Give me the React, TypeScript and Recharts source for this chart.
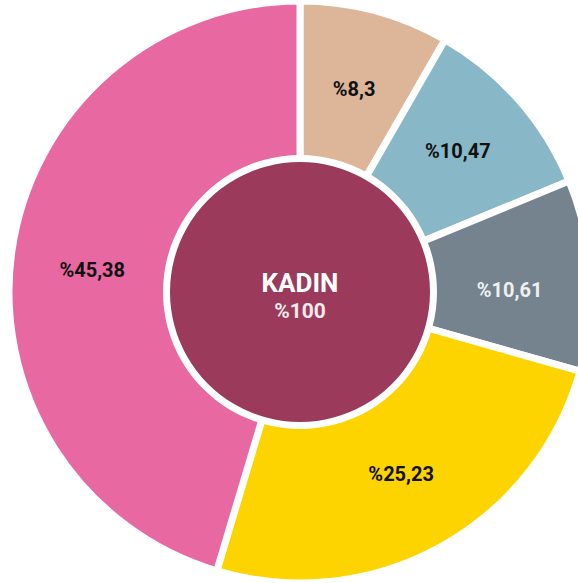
import { PieChart, Pie, Cell } from "recharts";

const categories = ["A", "B", "C", "D", "E"];
const values = [8.3, 10.47, 10.61, 25.23, 45.38];
const labels = ["%8,3", "%10,47", "%10,61", "%25,23", "%45,38"];
const colors = ["#DDB598", "#88B8C8", "#75838F", "#FDD300", "#E869A2"];
const textColors = ["#111", "#111", "#EEF0F2", "#111", "#111"];
const centerTitle = "KADIN";
const centerValue = "%100";

// small nudges so the labels sit where the original puts them
const labelShiftY = [0, -2, 10, -2, 8];

const RADIAN = Math.PI / 180;

export default function App() {
  const data = categories.map((name, i) => ({ name, value: values[i] }));
  const center = [{ name: centerTitle, value: 100 }];

  const renderLabel = (props: any) => {
    const { cx, cy, midAngle, index } = props;
    const r = 210;
    const x = cx + r * Math.cos(-midAngle * RADIAN);
    const y = cy + r * Math.sin(-midAngle * RADIAN) + labelShiftY[index];
    return (
      <text
        x={x}
        y={y}
        fill={textColors[index]}
        textAnchor="middle"
        dominantBaseline="central"
        fontFamily="Roboto"
        fontWeight={700}
        fontSize={20}
      >
        {labels[index]}
      </text>
    );
  };

  const renderCenter = (props: any) => {
    const { cx, cy } = props;
    return (
      <g fontFamily="Roboto" fontWeight={700} textAnchor="middle">
        <text x={cx} y={cy} fill="#FFFFFF" fontSize={26}>
          {centerTitle}
        </text>
        <text x={cx} y={cy + 26} fill="#F3E9EC" fontSize={21}>
          {centerValue}
        </text>
      </g>
    );
  };

  return (
    <div style={{ position: "absolute", left: 0, top: 0, width: 578, height: 583, overflow: "hidden" }}>
      <PieChart width={578} height={583} margin={{ top: 0, right: 0, bottom: 0, left: 0 }}>
        <Pie
          data={data}
          dataKey="value"
          cx={300}
          cy={292}
          innerRadius={0}
          outerRadius={291}
          startAngle={90}
          endAngle={-270}
          stroke="#FFFFFF"
          strokeWidth={7}
          label={renderLabel}
          labelLine={false}
          isAnimationActive={false}
        >
          {data.map((d, i) => (
            <Cell key={d.name} fill={colors[i]} />
          ))}
        </Pie>
        <Pie
          data={center}
          dataKey="value"
          cx={300}
          cy={292}
          innerRadius={0}
          outerRadius={137}
          startAngle={90}
          endAngle={-270}
          fill="#FFFFFF"
          stroke="none"
          isAnimationActive={false}
        />
        <Pie
          data={center}
          dataKey="value"
          cx={300}
          cy={292}
          innerRadius={0}
          outerRadius={130}
          startAngle={90}
          endAngle={-270}
          fill="#9C3A5C"
          stroke="none"
          label={renderCenter}
          labelLine={false}
          isAnimationActive={false}
        />
      </PieChart>
    </div>
  );
}
